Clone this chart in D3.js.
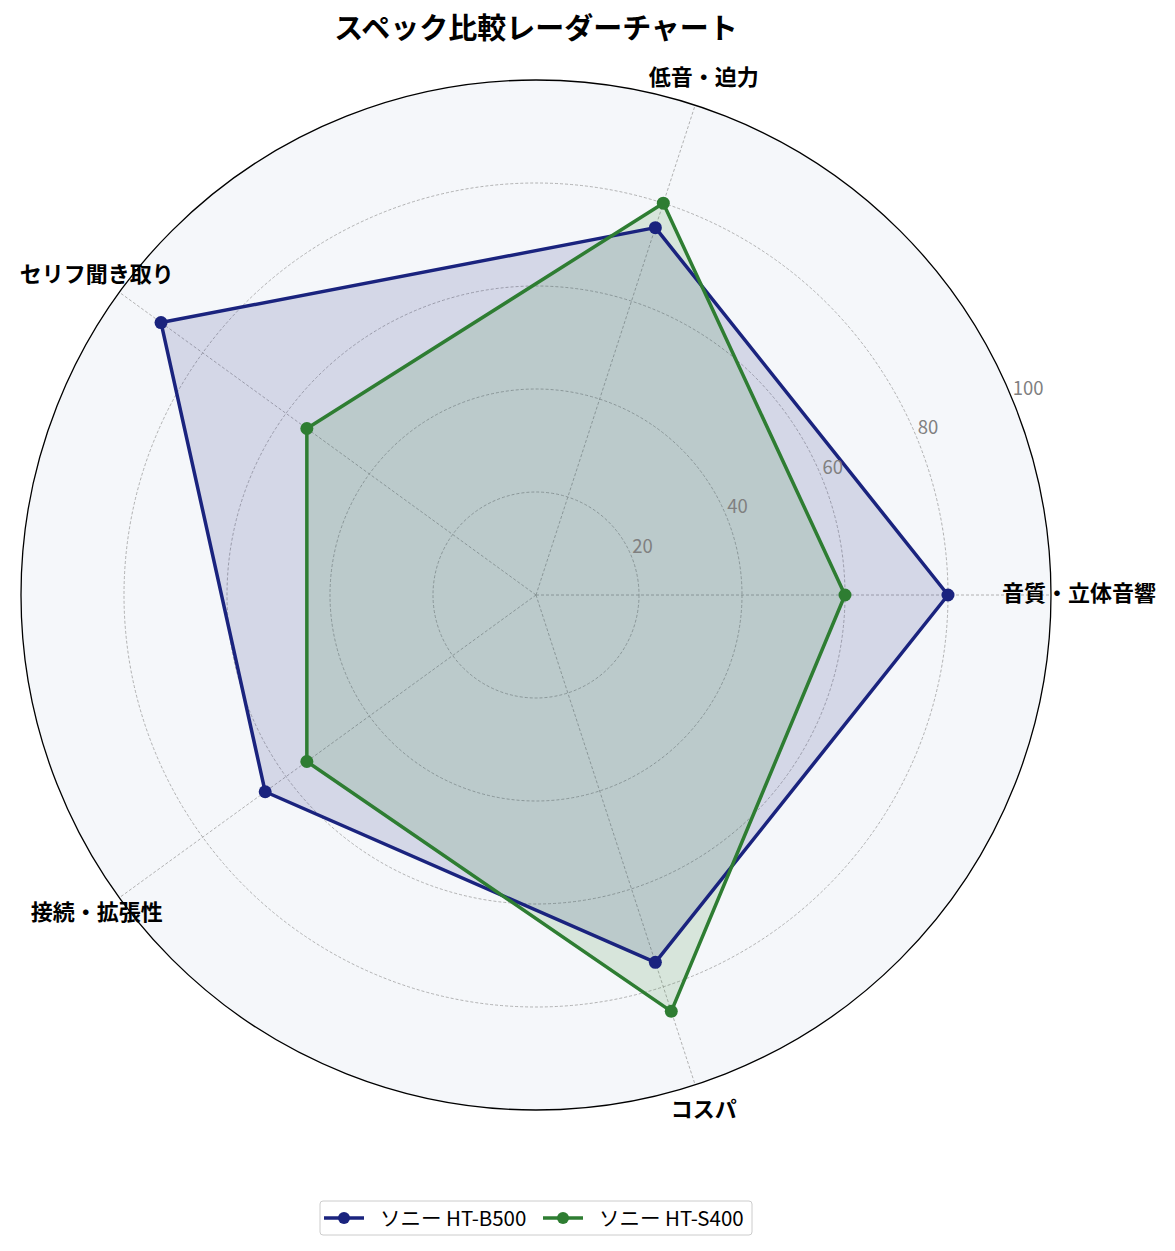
<!DOCTYPE html>
<html><head><meta charset="utf-8">
<script src="https://cdn.jsdelivr.net/npm/d3@7"></script>
<style>
body{margin:0;background:#fff;}
svg{display:block;font-family:"Noto Sans CJK JP","Noto Sans",sans-serif;}
</style></head>
<body>
<svg id="chart" width="1175" height="1251"></svg>
<script>
const categories = ["音質・立体音響","低音・迫力","セリフ聞き取り","接続・拡張性","コスパ"];
const seriesNames = ["ソニー HT-B500","ソニー HT-S400"];
const valuesB500 = [80,75,90,65,75];
const valuesS400 = [60,80,55,55,85];
const seriesColors = ["#1a237e","#2e7d32"];
const rTicks = [20,40,60,80,100];

const svg = d3.select("#chart");
const cx = 536, cy = 595, R = 515;
const r = d3.scaleLinear().domain([0,100]).range([0,R]);
const ang = d3.scaleLinear().domain([0,categories.length]).range([0,2*Math.PI]);
const pt = (i,v)=>[cx + r(v)*Math.cos(ang(i)), cy - r(v)*Math.sin(ang(i))];

const g = svg.append("g");
g.append("circle").attr("cx",cx).attr("cy",cy).attr("r",R).attr("fill","#f5f7fa");

// grid circles
g.selectAll(".grid").data(rTicks.slice(0,-1)).join("circle")
  .attr("cx",cx).attr("cy",cy).attr("r",d=>r(d))
  .attr("fill","none").attr("stroke","#a0a0a0").attr("stroke-width",0.8).attr("stroke-dasharray","3,2");
// spokes
g.selectAll(".spoke").data(categories).join("line")
  .attr("x1",cx).attr("y1",cy)
  .attr("x2",(d,i)=>pt(i,100)[0]).attr("y2",(d,i)=>pt(i,100)[1])
  .attr("stroke","#a0a0a0").attr("stroke-width",0.8).attr("stroke-dasharray","3,2");

const series = [valuesB500, valuesS400];
const line = d3.line().curve(d3.curveLinearClosed);
series.forEach((vals,s)=>{
  const pts = vals.map((v,i)=>pt(i,v));
  g.append("path").attr("d",line(pts)).attr("fill",seriesColors[s]).attr("fill-opacity",0.15).attr("stroke","none");
});
series.forEach((vals,s)=>{
  const pts = vals.map((v,i)=>pt(i,v));
  g.append("path").attr("d",line(pts)).attr("fill","none").attr("stroke",seriesColors[s]).attr("stroke-width",3.5).attr("stroke-linejoin","round");
  g.selectAll(null).data(pts).join("circle").attr("cx",d=>d[0]).attr("cy",d=>d[1]).attr("r",6.5).attr("fill",seriesColors[s]);
});

// outer circle
g.append("circle").attr("cx",cx).attr("cy",cy).attr("r",R).attr("fill","none").attr("stroke","#000").attr("stroke-width",1.3);

// radial tick labels
const la = 22.5*Math.PI/180;
g.selectAll(".rl").data(rTicks).join("text")
  .attr("x",d=>cx + r(d)*Math.cos(la)+1).attr("y",d=>cy - r(d)*Math.sin(la)-3)
  .attr("font-size",18.5).attr("fill","#808080").attr("text-anchor","start")
  .text(d=>d);

// category labels
g.selectAll(".cl").data(categories).join("text")
  .attr("x",(d,i)=>cx + (R+28)*Math.cos(ang(i)))
  .attr("y",(d,i)=>cy - (R+28)*Math.sin(ang(i)) - 4)
  .attr("text-anchor","middle").attr("dominant-baseline","central")
  .attr("font-size",22).attr("font-weight","bold").attr("fill","#000")
  .text(d=>d);

// title
svg.append("text").attr("x",536).attr("y",26).attr("text-anchor","middle").attr("dominant-baseline","central")
  .attr("font-size",29).attr("font-weight","bold").text("スペック比較レーダーチャート");

// legend
const lg = svg.append("g");
lg.append("rect").attr("x",320).attr("y",1201).attr("width",432).attr("height",34).attr("rx",3)
  .attr("fill","#fff").attr("stroke","#ccc").attr("stroke-width",1);
const legX = [324, 543];
seriesNames.forEach((n,s)=>{
  const x0 = legX[s], y0 = 1218;
  lg.append("line").attr("x1",x0).attr("x2",x0+40).attr("y1",y0).attr("y2",y0).attr("stroke",seriesColors[s]).attr("stroke-width",3.5);
  lg.append("circle").attr("cx",x0+20).attr("cy",y0).attr("r",6).attr("fill",seriesColors[s]);
  lg.append("text").attr("x",x0+56).attr("y",y0-1).attr("dominant-baseline","central").attr("font-size",20.5).text(n);
});
</script>
</body></html>
